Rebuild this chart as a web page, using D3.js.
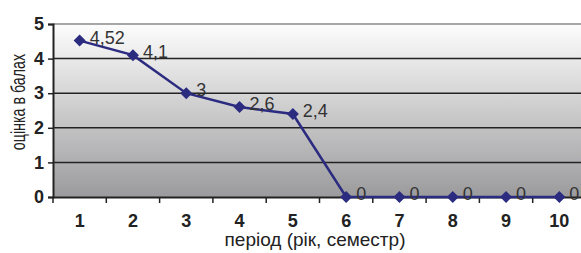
<!DOCTYPE html>
<html>
<head>
    <meta charset="utf-8">
    <title>оцінка в балах</title>
    <script src="https://d3js.org/d3.v7.min.js"></script>
</head>
<style>
    body { margin: 0; background: white; }
    text { font-family: Arial, "Liberation Sans", sans-serif; }
</style>
<body>
<svg id="chart" width="581" height="253"></svg>
<script type="text/javascript">

    var periods = ["1", "2", "3", "4", "5", "6", "7", "8", "9", "10"];
    var scores = [4.52, 4.1, 3, 2.6, 2.4, 0, 0, 0, 0, 0];
    var yTicks = [0, 1, 2, 3, 4, 5];

    var svg = d3.select("#chart");
    var plotLeft = 53, plotTop = 24, plotBottom = 197, plotRight = 586;

    var x = d3.scaleBand().domain(periods).range([plotLeft, plotRight]);
    var y = d3.scaleLinear().domain([0, 5]).range([plotBottom, plotTop]);

    // plot background
    var grad = svg.append("defs").append("linearGradient")
            .attr("id", "bg").attr("x1", 0).attr("y1", 0).attr("x2", 0).attr("y2", 1);
    grad.append("stop").attr("offset", "0%").attr("stop-color", "#fdfdfd");
    grad.append("stop").attr("offset", "100%").attr("stop-color", "#9b9b9d");

    svg.append("rect")
            .attr("x", plotLeft).attr("y", plotTop)
            .attr("width", plotRight - plotLeft).attr("height", plotBottom - plotTop)
            .attr("fill", "url(#bg)");

    // gridlines
    svg.selectAll(".grid")
            .data(yTicks.filter(function (d) { return d > 0; }))
            .enter().append("line")
            .attr("x1", plotLeft).attr("x2", plotRight)
            .attr("y1", function (d) { return y(d); })
            .attr("y2", function (d) { return y(d); })
            .attr("stroke", function (d) { return d == 5 ? "#8a8a8a" : "#222"; })
            .attr("stroke-width", 1.5);

    // y axis
    var yAxis = svg.append("g")
            .attr("transform", "translate(" + plotLeft + ",0)")
            .call(d3.axisLeft(y).tickValues(yTicks).tickFormat(d3.format("d")).tickSize(5).tickPadding(4));
    yAxis.select(".domain").attr("stroke", "#222").attr("stroke-width", 2);
    yAxis.selectAll(".tick line").attr("stroke", "#222").attr("stroke-width", 1.5);
    yAxis.selectAll("text")
            .attr("font-size", 18).attr("font-weight", "bold").attr("fill", "#222")
            .attr("font-family", "Arial, 'Liberation Sans', sans-serif");

    // x axis
    var xAxis = svg.append("g")
            .attr("transform", "translate(0," + plotBottom + ")")
            .call(d3.axisBottom(x).tickSize(0).tickPadding(17));
    xAxis.select(".domain").attr("stroke", "#222").attr("stroke-width", 2);
    xAxis.selectAll("text")
            .attr("font-size", 18).attr("font-weight", "bold").attr("fill", "#222")
            .attr("font-family", "Arial, 'Liberation Sans', sans-serif");

    // category boundary ticks
    svg.selectAll(".xtick")
            .data(periods)
            .enter().append("line")
            .attr("x1", function (d) { return x(d); })
            .attr("x2", function (d) { return x(d); })
            .attr("y1", plotBottom).attr("y2", plotBottom + 6)
            .attr("stroke", "#222").attr("stroke-width", 1.5);

    // line
    var cx = function (d, i) { return x(periods[i]) + x.bandwidth() / 2; };
    svg.append("path")
            .datum(scores)
            .attr("d", d3.line().x(cx).y(function (d) { return y(d); }))
            .attr("fill", "none")
            .attr("stroke", "#2b2b80")
            .attr("stroke-width", 2.5);

    svg.selectAll(".marker")
            .data(scores)
            .enter().append("path")
            .attr("d", "M0,-6 L6,0 0,6 -6,0 Z")
            .attr("transform", function (d, i) { return "translate(" + cx(d, i) + "," + y(d) + ")"; })
            .attr("fill", "#2b2b80");

    svg.selectAll(".label")
            .data(scores)
            .enter().append("text")
            .attr("x", function (d, i) { return cx(d, i) + 10; })
            .attr("y", function (d) { return y(d) + 3; })
            .attr("font-size", 18)
            .attr("fill", "#333")
            .text(function (d) { return String(d).replace(".", ","); });

    // axis titles
    svg.append("text")
            .attr("transform", "translate(25,102) rotate(-90) scale(0.68,1)")
            .attr("text-anchor", "middle")
            .attr("font-size", 21)
            .attr("fill", "#222")
            .text("оцінка в балах");

    svg.append("text")
            .attr("x", 315).attr("y", 246)
            .attr("text-anchor", "middle")
            .attr("font-size", 19)
            .attr("fill", "#222")
            .text("період (рік, семестр)");
</script>
</body>
</html>
